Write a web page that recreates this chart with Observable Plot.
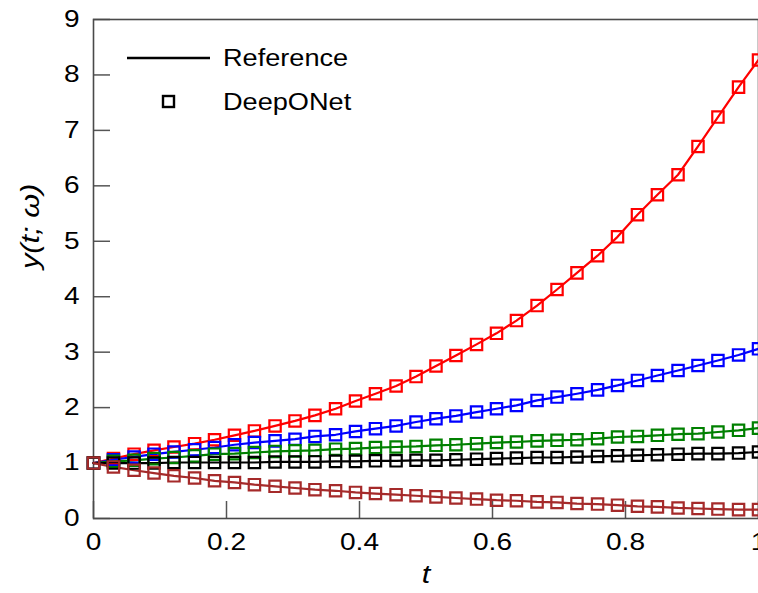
<!DOCTYPE html>
<html><head><meta charset="utf-8">
<script src="https://cdn.jsdelivr.net/npm/d3@7"></script>
<script src="https://cdn.jsdelivr.net/npm/@observablehq/plot@0.6"></script>
<style>
body{margin:0;background:#fff;}
#wrap{position:relative;width:758px;height:593px;overflow:hidden;background:#fff;}
#legend{position:absolute;left:0;top:0;}
</style></head><body><div id="wrap"></div>
<script>
const tValues=[0,0.030,0.061,0.091,0.121,0.152,0.182,0.212,0.242,0.273,0.303,0.333,0.364,0.394,0.424,0.455,0.485,0.515,0.545,0.576,0.606,0.636,0.667,0.697,0.727,0.758,0.788,0.818,0.848,0.879,0.909,0.939,0.970,1.000];
const seriesNames=["red","blue","green","black","brown"];
const seriesColors=["#ff0000","#0000ff","#1a7a1a","#000000","#a52a2a"];
const redValues=[1.00,1.08,1.16,1.23,1.29,1.35,1.42,1.50,1.58,1.67,1.76,1.86,1.98,2.12,2.25,2.39,2.56,2.75,2.94,3.14,3.34,3.57,3.84,4.13,4.43,4.74,5.08,5.48,5.84,6.20,6.71,7.24,7.78,8.27];
const blueValues=[1.00,1.06,1.11,1.16,1.20,1.24,1.28,1.33,1.37,1.40,1.43,1.48,1.51,1.57,1.62,1.67,1.74,1.80,1.85,1.92,1.98,2.04,2.13,2.19,2.25,2.32,2.40,2.49,2.58,2.67,2.76,2.85,2.95,3.06];
const greenValues=[1.00,1.03,1.05,1.08,1.10,1.13,1.16,1.17,1.19,1.21,1.22,1.23,1.25,1.26,1.28,1.29,1.30,1.32,1.33,1.35,1.37,1.38,1.40,1.41,1.42,1.44,1.47,1.48,1.50,1.52,1.53,1.56,1.59,1.63];
const blackValues=[1.00,1.00,1.00,1.00,1.01,1.01,1.01,1.01,1.01,1.02,1.02,1.02,1.03,1.03,1.04,1.04,1.05,1.05,1.06,1.07,1.08,1.09,1.10,1.10,1.11,1.12,1.13,1.14,1.15,1.16,1.17,1.17,1.18,1.20];
const brownValues=[1.00,0.93,0.87,0.82,0.77,0.73,0.68,0.65,0.61,0.58,0.55,0.52,0.50,0.47,0.45,0.43,0.41,0.39,0.37,0.35,0.33,0.32,0.30,0.29,0.27,0.26,0.24,0.22,0.21,0.19,0.18,0.17,0.16,0.16];
const xTicks=[0,0.2,0.4,0.6,0.8,1];
const xTickLabels=["0","0.2","0.4","0.6","0.8","1"];
const yTicks=[0,1,2,3,4,5,6,7,8,9];
const legendLabels=["Reference","DeepONet"];
const xLabel="t";
const yLabel="y(t; ω)";

const valuesBySeries=[redValues,blueValues,greenValues,blackValues,brownValues];
const data=seriesNames.flatMap((s,i)=>valuesBySeries[i].map((v,k)=>({series:s,t:tValues[k],y:v})));

const font="'Liberation Sans', Arial, Helvetica, sans-serif";
const W=758,H=593,ML=93,MR=0,MT=19,MB=75,TICK=17;
const chart=Plot.plot({
  width:W,height:H,
  marginLeft:ML,marginRight:MR,marginTop:MT,marginBottom:MB,
  style:{fontFamily:font,fontSize:"23px",color:"#000",background:"#fff",overflow:"visible"},
  x:{domain:[0,1]},
  y:{domain:[0,9]},
  color:{domain:seriesNames,range:seriesColors},
  marks:[
    Plot.axisX(xTicks,{tickSize:0,tickPadding:15,fill:"#000",label:null,tickFormat:d=>xTickLabels[xTicks.indexOf(d)]}),
    Plot.axisY(yTicks,{tickSize:0,tickPadding:14,fill:"#000",label:null,tickFormat:d=>String(d)}),
    Plot.tickX(xTicks,{x:d=>d,insetTop:(H-MT-MB)-TICK,stroke:"#555",strokeWidth:1.5}),
    Plot.tickY(yTicks,{y:d=>d,insetRight:(W-ML-MR)-TICK,stroke:"#555",strokeWidth:1.5}),
    Plot.frame({stroke:"#4a4a4a",strokeWidth:1.6}),
    Plot.line(data,{x:"t",y:"y",z:"series",stroke:"series",strokeWidth:2.2}),
    Plot.dot(data,{x:"t",y:"y",stroke:"series",symbol:"square",r:6.4,strokeWidth:2.2,fill:"none"}),
    Plot.text([xLabel],{frameAnchor:"bottom",dy:64,fontStyle:"italic",fontSize:26,fill:"#000"}),
    Plot.text([yLabel],{frameAnchor:"left",dx:-63,rotate:-90,fontStyle:"italic",fontSize:26,fill:"#000"})
  ]
});
const wrap=document.getElementById("wrap");
wrap.appendChild(chart);

// legend overlay
const ns="http://www.w3.org/2000/svg";
const lg=document.createElementNS(ns,"svg");
lg.setAttribute("id","legend");lg.setAttribute("width","400");lg.setAttribute("height","140");
lg.innerHTML=`<line x1="127" y1="58" x2="210" y2="58" stroke="#000" stroke-width="2.6"/>
<rect x="163" y="96" width="11" height="11" fill="none" stroke="#000" stroke-width="2.4"/>
<text x="223" y="58" dy="0.35em" font-family="${font}" font-size="23">${legendLabels[0]}</text>
<text x="223" y="102" dy="0.35em" font-family="${font}" font-size="23">${legendLabels[1]}</text>`;
wrap.appendChild(lg);

// widen glyphs horizontally (reference typeface is wider) without moving anchors
function widen(el,s){
  const L=el.getComputedTextLength();
  if(L>0){el.setAttribute("textLength",(L*s).toFixed(1));el.setAttribute("lengthAdjust","spacingAndGlyphs");}
}
chart.querySelectorAll("text").forEach(el=>{
  const g=el.closest("g[aria-label]");
  const lab=g?g.getAttribute("aria-label"):"";
  widen(el,lab.includes("tick label")?1.22:1.18);
});
lg.querySelectorAll("text").forEach(el=>widen(el,1.18));
</script></body></html>
